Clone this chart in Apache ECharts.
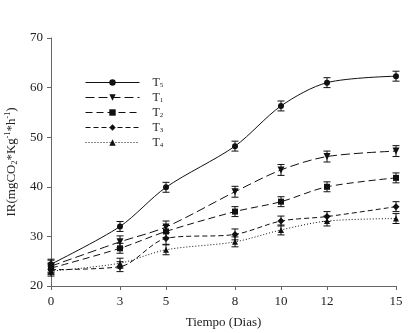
<!DOCTYPE html>
<html>
<head>
<meta charset="utf-8">
<script src="https://cdn.jsdelivr.net/npm/echarts@6/dist/echarts.min.js"></script>
<style>html,body{margin:0;padding:0;background:#fff}#c{width:416px;height:333px}</style>
</head>
<body>
<div id="c"></div>
<script>
var days = [0, 3, 5, 8, 10, 12, 15];
var xTicks = [0, 3, 5, 8, 10, 12, 15];
var names = ['T5', 'T1', 'T2', 'T3', 'T4'];
var t5 = [24.4, 32.0, 39.9, 48.2, 56.3, 61.0, 62.3];
var t1 = [24.0, 28.9, 31.9, 39.0, 43.4, 46.1, 47.2];
var t2 = [23.6, 27.6, 31.0, 35.0, 37.0, 40.0, 41.8];
var t3 = [23.3, 23.9, 29.6, 30.4, 33.1, 34.0, 36.0];
var t4 = [23.0, 24.6, 27.3, 28.9, 31.3, 33.1, 33.6];
var e5 = [1.0, 1.0, 1.0, 1.0, 1.0, 1.0, 1.0];
var e1 = [1.2, 1.2, 1.2, 1.1, 1.1, 1.1, 1.1];
var e2 = [1.0, 1.0, 1.2, 1.0, 1.0, 1.0, 1.0];
var e3 = [1.0, 1.0, 1.2, 1.1, 1.0, 1.0, 1.0];
var e4 = [1.0, 1.0, 1.0, 1.0, 1.0, 1.0, 1.0];

var values = [t5, t1, t2, t3, t4];
var errs = [e5, e1, e2, e3, e4];
var symbols = ['circle', 'triangle', 'rect', 'diamond', 'triangle'];
var rotates = [0, 180, 0, 0, 0];
var dashes = ['solid', [9, 4], [7, 4], [5, 3], [1, 2]];
var sizes = [6, 7, 6, 7, 6];
var font = "'Liberation Serif', 'Times New Roman', serif";

function pairs(v) { return days.map(function (d, i) { return [d, v[i]]; }); }
function errData(v, e) { return days.map(function (d, i) { return [d, v[i] - e[i], v[i] + e[i]]; }); }

var series = [];
values.forEach(function (v, k) {
  series.push({
    name: names[k], type: 'line', data: pairs(v), smooth: 0.3,
    symbol: symbols[k], symbolRotate: rotates[k], symbolSize: sizes[k],
    lineStyle: { color: '#111', width: 1, type: dashes[k] },
    itemStyle: { color: '#111' }, z: 3
  });
});
values.forEach(function (v, k) {
  series.push({
    type: 'custom', data: errData(v, errs[k]), z: 4, silent: true,
    renderItem: function (params, api) {
      var x = api.value(0), lo = api.value(1), hi = api.value(2);
      var p1 = api.coord([x, lo]), p2 = api.coord([x, hi]);
      var w = 3.5, st = { stroke: '#111', lineWidth: 1 };
      return { type: 'group', children: [
        { type: 'line', shape: { x1: p1[0], y1: p1[1], x2: p2[0], y2: p2[1] }, style: st },
        { type: 'line', shape: { x1: p1[0] - w, y1: p1[1], x2: p1[0] + w, y2: p1[1] }, style: st },
        { type: 'line', shape: { x1: p2[0] - w, y1: p2[1], x2: p2[0] + w, y2: p2[1] }, style: st }
      ]};
    }
  });
});

var chart = echarts.init(document.getElementById('c'));
chart.setOption({
  animation: false,
  backgroundColor: '#fff',
  textStyle: { fontFamily: font },
  grid: { left: 51, right: 20, top: 38, bottom: 47, containLabel: false, outerBoundsMode: 'none' },
  legend: {
    orient: 'vertical', left: 85, top: 76, padding: 0,
    itemWidth: 54, itemHeight: 8, itemGap: 2,
    data: names,
    lineStyle: { width: 1 },
    formatter: function (n) { return 'T{s|' + n.slice(1) + '}'; },
    textStyle: { fontFamily: font, fontSize: 12, color: '#222', lineHeight: 13, padding: [0, 0, 0, 8],
      rich: { s: { fontFamily: font, fontSize: 7, color: '#222', lineHeight: 13, padding: [5, 0, 0, 0] } } }
  },
  xAxis: {
    type: 'value', min: 0, max: 15,
    name: 'Tiempo (Dias)', nameLocation: 'middle', nameGap: 30,
    nameTextStyle: { fontFamily: font, fontSize: 13, color: '#222' },
    axisLine: { lineStyle: { color: '#666' } },
    axisTick: { show: true, length: 4, customValues: xTicks, lineStyle: { color: '#666' } },
    axisLabel: { customValues: xTicks, fontFamily: font, fontSize: 13, color: '#222', margin: 9 },
    splitLine: { show: false }
  },
  yAxis: {
    type: 'value', min: 20, max: 70, interval: 10,
    name: 'IR(mgCO{sub|2}*Kg{sup|-1}*h{sup|-1})', nameLocation: 'middle', nameGap: 29, nameRotate: 90,
    nameTextStyle: { fontFamily: font, fontSize: 13, color: '#222',
      rich: {
        sub: { fontFamily: font, fontSize: 8, color: '#222', padding: [8, 0, 0, 0] },
        sup: { fontFamily: font, fontSize: 8, color: '#222', padding: [0, 0, 7, 0] }
      } },
    axisLine: { show: true, lineStyle: { color: '#666' } },
    axisTick: { show: true, length: 4, lineStyle: { color: '#666' } },
    axisLabel: { fontFamily: font, fontSize: 13, color: '#222', margin: 8 },
    splitLine: { show: false }
  },
  series: series
});
</script>
</body>
</html>
